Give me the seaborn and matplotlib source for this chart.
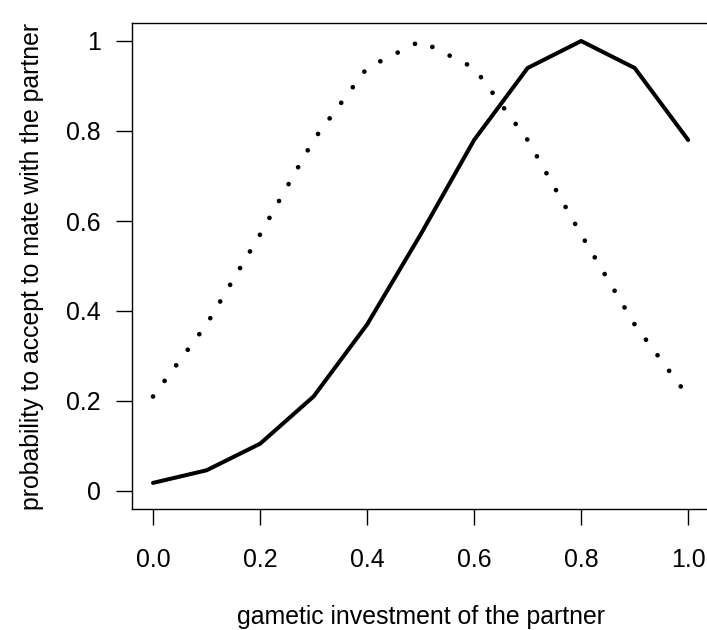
import numpy as np
import pandas as pd
import matplotlib
matplotlib.use("Agg")
import matplotlib.pyplot as plt
import seaborn as sns

# data
investment = [0.0, 0.1, 0.2, 0.3, 0.4, 0.5, 0.6, 0.7, 0.8, 0.9, 1.0]
prob_solid = [0.018, 0.046, 0.105, 0.21, 0.37, 0.57, 0.78, 0.94, 1.0, 0.94, 0.78]
prob_dotted = [0.21, 0.37, 0.57, 0.78, 0.94, 1.0, 0.94, 0.78, 0.57, 0.37, 0.21]

x_ticks = [0.0, 0.2, 0.4, 0.6, 0.8, 1.0]
x_labels = ["0.0", "0.2", "0.4", "0.6", "0.8", "1.0"]
y_ticks = [0, 0.2, 0.4, 0.6, 0.8, 1.0]
y_labels = ["0", "0.2", "0.4", "0.6", "0.8", "1"]

sns.set_style("ticks")
plt.rcParams["font.family"] = ["Liberation Sans", "DejaVu Sans"]
plt.rcParams["font.size"] = 17.9
plt.rcParams["text.color"] = "black"
plt.rcParams["axes.labelcolor"] = "black"
plt.rcParams["xtick.color"] = "black"
plt.rcParams["ytick.color"] = "black"

fig = plt.figure(figsize=(7.07, 6.30), dpi=100)
ax = fig.add_axes([131.6 / 707, 121 / 630, 578 / 707, 486 / 630])

sns.lineplot(x=investment, y=prob_solid, ax=ax, color="black", lw=2.9)
sns.lineplot(x=investment, y=prob_dotted, ax=ax, color="black", lw=3.4)
ax.lines[-1].set_linestyle((0, (0.01, 4.1)))
ax.lines[-1].set_dash_capstyle("round")

ax.set_xlim(-0.04, 1.04)
ax.set_ylim(-0.04, 1.04)
ax.set_xticks(x_ticks)
ax.set_xticklabels(x_labels)
ax.set_yticks(y_ticks)
ax.set_yticklabels(y_labels)
ax.tick_params(direction="out", length=11.3, width=1.0, color="black", labelcolor="black")
ax.tick_params(axis="x", pad=16.5)
ax.tick_params(axis="y", pad=11)
for s in ax.spines.values():
    s.set_visible(True)
    s.set_linewidth(1.0)
    s.set_color("black")

ax.set_xlabel("gametic investment of the partner", labelpad=24)
ax.set_ylabel("probability to accept to mate with the partner", labelpad=16)

fig.savefig("out.png", dpi=100)
